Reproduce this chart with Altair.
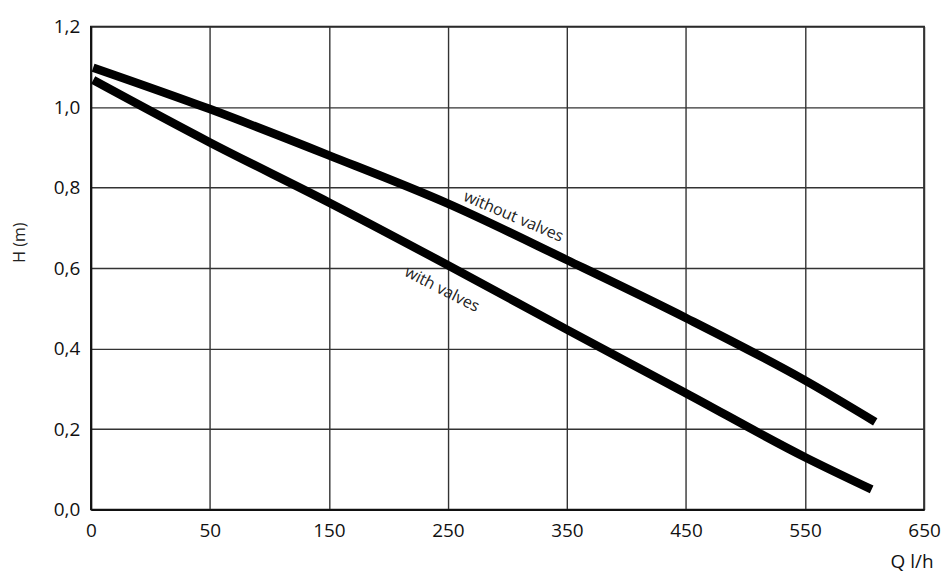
import altair as alt
import pandas as pd

# Q axis tick labels (l/h) and H values (m)
q_ticks = [0, 50, 150, 250, 350, 450, 550, 650]
h_ticks = [0.0, 0.2, 0.4, 0.6, 0.8, 1.0, 1.2]

q_without = [1, 50, 150, 250, 350, 450, 550, 609]
h_without = [1.098, 0.995, 0.880, 0.760, 0.620, 0.476, 0.321, 0.218]

q_with = [1, 50, 150, 250, 350, 450, 550, 606]
h_with = [1.067, 0.912, 0.763, 0.607, 0.447, 0.289, 0.130, 0.050]

label_text = ["without valves", "with valves"]
label_q = [305, 245]
label_h = [0.728, 0.547]
label_angle = [23, 27]

W, H = 835, 484
FONT = "Open Sans"

rows = []
for q, h in zip(q_without, h_without):
    rows.append({"Q": q, "H": h, "curve": "without valves"})
for q, h in zip(q_with, h_with):
    rows.append({"Q": q, "H": h, "curve": "with valves"})
df = pd.DataFrame(rows)
labels = pd.DataFrame({"text": label_text, "Q": label_q, "H": label_h, "angle": label_angle})

xscale = alt.Scale(domain=[0, 50, 650], range=[0, W / 7, W], nice=False)
yscale = alt.Scale(domain=[0, 1.2], nice=False, zero=False)

xaxis = alt.Axis(
    values=q_ticks, title="Q l/h", grid=True, ticks=False, labelFlush=False,
    labelPadding=12, labelFontSize=19, labelFont=FONT, labelColor="#111",
    gridColor="#333", gridWidth=1.4, domainColor="#111", domainWidth=2,
    titleFont=FONT, titleFontSize=19, titleFontWeight="normal", titleColor="#111",
    titleAnchor="end", titleAlign="right", titleBaseline="alphabetic",
    titleX=W + 9, titleY=58,
)
yaxis = alt.Axis(
    values=h_ticks, title="H (m)", grid=True, ticks=False,
    labelExpr="replace(format(datum.value, '.1f'), '.', ',')",
    labelPadding=11, labelFontSize=19, labelFont=FONT, labelColor="#111",
    gridColor="#333", gridWidth=1.4, domainColor="#111", domainWidth=2,
    titleFont=FONT, titleFontSize=16, titleFontWeight="normal", titleColor="#222",
    titleAngle=-90, titleAlign="center", titleBaseline="middle",
    titleX=-71, titleY=216,
)

lines = alt.Chart(df).mark_line(
    color="black", strokeWidth=8.5, strokeCap="butt", interpolate="monotone"
).encode(
    x=alt.X("Q:Q", scale=xscale, axis=xaxis),
    y=alt.Y("H:Q", scale=yscale, axis=yaxis),
    detail="curve:N",
)

texts = alt.Chart(labels).mark_text(
    font=FONT, fontSize=16, color="#222", align="center", baseline="middle"
).encode(
    x=alt.X("Q:Q", scale=xscale),
    y=alt.Y("H:Q", scale=yscale),
    text="text:N",
    angle=alt.Angle("angle:Q", scale=None),
)

chart = alt.layer(lines, texts).properties(
    width=W, height=H,
    autosize=alt.AutoSizeParams(type="none"),
    padding={"left": 83, "top": 18, "right": 20, "bottom": 64},
).configure_view(stroke="#111", strokeWidth=1.6)

chart.save("out.html", embed_options={"renderer": "svg", "actions": False})
